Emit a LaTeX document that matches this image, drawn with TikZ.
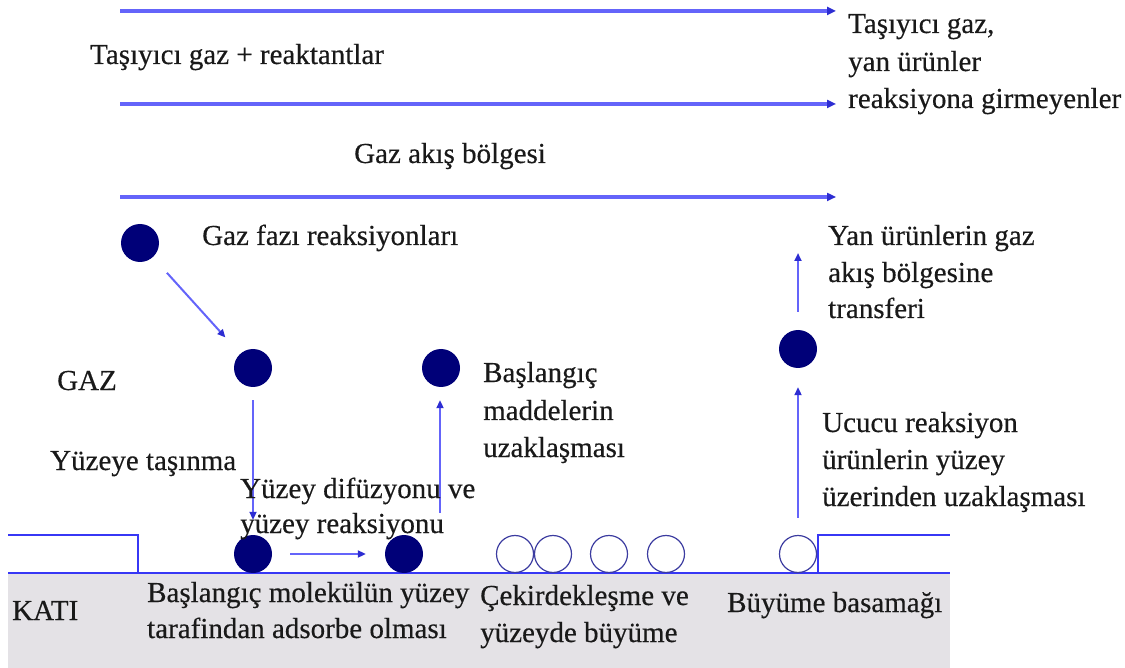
\documentclass[tikz,border=0pt]{standalone}
\usepackage{fontspec}
\setmainfont{Liberation Serif}[FakeBold=0.4]
\usetikzlibrary{arrows.meta}
\definecolor{flowblue}{RGB}{100,100,250}
\definecolor{tipblue}{RGB}{45,45,210}
\definecolor{surfblue}{RGB}{55,55,245}
\definecolor{molnavy}{RGB}{0,0,120}
\definecolor{ringnavy}{RGB}{60,60,160}
\definecolor{solidgray}{RGB}{228,226,230}
\tikzset{
  lbl/.style={anchor=base west, inner sep=0pt, text=black!90, font=\fontsize{29}{36}\selectfont},
  mol/.style={circle, fill=molnavy, minimum size=38pt, inner sep=0pt},
  ring/.style={circle, draw=ringnavy, line width=1.2pt, minimum size=37pt, inner sep=0pt},
  flow/.style={draw=flowblue, line width=3.2pt, -{Triangle[length=9pt,width=8pt,color=tipblue,fill=tipblue]}},
  move/.style={draw=flowblue, line width=2pt, -{Triangle[length=8pt,width=7pt,color=tipblue,fill=tipblue]}},
  surface/.style={draw=surfblue, line width=2pt}
}
\begin{document}
\begin{tikzpicture}[x=1pt, y=-1pt]
\useasboundingbox (0,0) rectangle (1125,668);

% solid substrate
\fill[solidgray] (8,573) rectangle (950,668);
\draw[surface] (8,573) -- (950,573);
\draw[surface] (8,535) -- (138,535) -- (138,573);
\draw[surface] (818,573) -- (818,535) -- (950,535);

% gas flow arrows
\coordinate (f1s) at (120,11);  \coordinate (f1e) at (836,11);
\coordinate (f2s) at (120,104); \coordinate (f2e) at (836,104);
\coordinate (f3s) at (120,197); \coordinate (f3e) at (836,197);
\draw[flow] (f1s) -- (f1e);
\draw[flow] (f2s) -- (f2e);
\draw[flow] (f3s) -- (f3e);

% molecules
\node[mol] (g1) at (140,243) {};
\node[mol] (g2) at (253,368) {};
\node[mol] (g3) at (441,368) {};
\node[mol] (g4) at (798,349) {};
\node[mol] (s1) at (253,554) {};
\node[mol] (s2) at (404,554) {};

% nuclei on the surface
\node[ring] (o1) at (515,554) {};
\node[ring] (o2) at (553,554) {};
\node[ring] (o3) at (609,554) {};
\node[ring] (o4) at (666,554) {};
\node[ring] (o5) at (798,554) {};

% transport steps
\draw[move, shorten <=21pt, shorten >=22pt] (g1) -- (g2);
\draw[move, shorten <=13pt, shorten >=15pt] (g2) -- (s1);
\draw[move, shorten <=18pt, shorten >=19pt] (s1) -- (s2);
\coordinate (d0) at (440,513);
\draw[move, shorten >=13pt] (d0) -- (g3.south -| d0);
\draw[move, shorten <=17pt, shorten >=19pt] (o5) -- (g4);
\coordinate (t0) at (798,253);
\draw[move, shorten <=18pt] (g4) -- (t0);

% labels
\node[lbl] (tin) at (90,64) {Taşıyıcı gaz + reaktantlar};
\node[lbl] (tout1) at (848,33) {Taşıyıcı gaz,};
\node[lbl] (tout2) at (848,71) {yan ürünler};
\node[lbl] (tout3) at (848,108) {reaksiyona girmeyenler};
\node[lbl] (flowreg) at (354,163) {Gaz akış bölgesi};
\node[lbl] (gasrx) at (202,245) {Gaz fazı reaksiyonları};
\node[lbl] (gaz) at (57,390) {GAZ};
\node[lbl] (des1) at (483,382) {Başlangıç};
\node[lbl] (des2) at (483,420) {maddelerin};
\node[lbl] (des3) at (483,457) {uzaklaşması};
\node[lbl] (tr1) at (828,245) {Yan ürünlerin gaz};
\node[lbl] (tr2) at (828,282) {akış bölgesine};
\node[lbl] (tr3) at (828,318) {transferi};
\node[lbl] (vol1) at (822,432) {Ucucu reaksiyon};
\node[lbl] (vol2) at (822,469) {ürünlerin yüzey};
\node[lbl] (vol3) at (822,506) {üzerinden uzaklaşması};
\node[lbl] (trn) at (50,470) {Yüzeye taşınma};
\node[lbl] (dif1) at (240,498) {Yüzey difüzyonu ve};
\node[lbl] (dif2) at (240,533) {yüzey reaksiyonu};
\node[lbl] (kati) at (12,620) {KATI};
\node[lbl] (ads1) at (147,602) {Başlangıç molekülün yüzey};
\node[lbl] (ads2) at (147,638) {tarafindan adsorbe olması};
\node[lbl] (nuc1) at (480,605) {Çekirdekleşme ve};
\node[lbl] (nuc2) at (480,642) {yüzeyde büyüme};
\node[lbl] (step1) at (727,612) {Büyüme basamağı};
\end{tikzpicture}
\end{document}
